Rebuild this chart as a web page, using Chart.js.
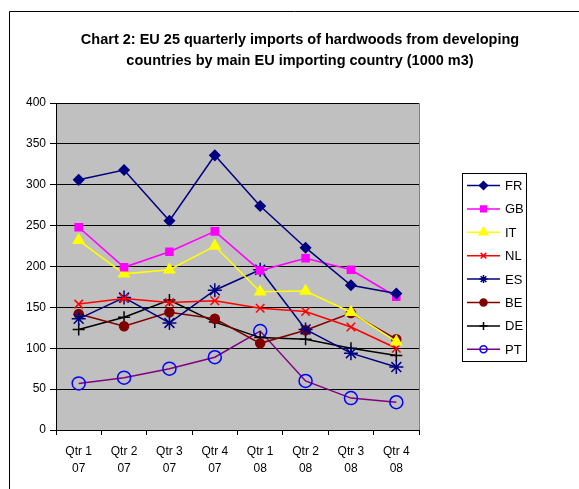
<!DOCTYPE html>
<html>
<head>
<meta charset="utf-8">
<script src="https://cdn.jsdelivr.net/npm/chart.js@4/dist/chart.umd.min.js"></script>
<style>
html,body{margin:0;padding:0;background:#fff;}
#wrap{position:relative;width:579px;height:489px;}
</style>
</head>
<body>
<div id="wrap"><canvas id="c" width="579" height="489"></canvas></div>
<script>
const titleLines = ["Chart 2: EU 25 quarterly imports of hardwoods from developing", "countries by main EU importing country (1000 m3)"];
const categories = [["Qtr 1","07"],["Qtr 2","07"],["Qtr 3","07"],["Qtr 4","07"],["Qtr 1","08"],["Qtr 2","08"],["Qtr 3","08"],["Qtr 4","08"]];
const yTicks = [0,50,100,150,200,250,300,350,400];
const FR = [306,318,256,336,274,223,177,167];
const GB = [248,199,218,243,195,210,196,163];
const IT = [232,191,196,225,169,170,144,108];
const NL = [154,161,156,158,149,145,126,100];
const ES = [136,162,131,171,196,123,94,77];
const BE = [142,127,144,136,106,122,143,111];
const DE = [123,138,159,132,113,111,100,91];
const PT = [57,64,75,89,121,60,39,34];

const FONT = "Arial, 'Liberation Sans', sans-serif";

function ds(label, data, line, pstyle, pfill, pborder, radius, legendRadius){
  return {label, data, borderColor: line, backgroundColor: pfill, pointStyle: pstyle,
    pointBackgroundColor: pfill, pointBorderColor: pborder, pointRadius: radius, pointHoverRadius: radius,
    pointBorderWidth: 1.5, borderWidth: 1.5, tension: 0, fill: false, legendRadius};
}
const datasets = [
  ds("FR", FR, "#000080", "rectRot", "#000080", "#000080", 5, 4),
  ds("GB", GB, "#FF00FF", "rect", "#FF00FF", "#FF00FF", 5, 4),
  ds("IT", IT, "#FFFF00", "triangle", "#FFFF00", "#FFFF00", 6, 5),
  ds("NL", NL, "#FF0000", "crossRot", "#FF0000", "#FF0000", 6, 4),
  ds("ES", ES, "#000080", "star", "#000080", "#000080", 7, 4),
  ds("BE", BE, "#800000", "circle", "#800000", "#800000", 4.5, 3.5),
  ds("DE", DE, "#000000", "cross", "#000000", "#000000", 6, 4),
  ds("PT", PT, "#800080", "circle", "rgba(0,0,0,0)", "#0000FF", 6.5, 3.5)
];

const decor = {
  id: "decor",
  beforeDraw(chart){
    const ctx = chart.ctx, a = chart.chartArea;
    ctx.save();
    ctx.fillStyle = "#fff";
    ctx.fillRect(0,0,chart.width,chart.height);
    ctx.fillStyle = "#C0C0C0";
    ctx.fillRect(a.left, a.top, a.right-a.left, a.bottom-a.top);
    ctx.strokeStyle = "#808080"; ctx.lineWidth = 1;
    ctx.beginPath();
    ctx.moveTo(a.left, a.top+0.5); ctx.lineTo(a.right+0.5, a.top+0.5); ctx.lineTo(a.right+0.5, a.bottom);
    ctx.stroke();
    // outer frame
    ctx.strokeStyle = "#000";
    ctx.beginPath();
    ctx.moveTo(9.5, 489); ctx.lineTo(9.5, 11.5); ctx.lineTo(579, 11.5);
    ctx.stroke();
    // title
    ctx.fillStyle = "#000";
    ctx.font = "bold 14.5px " + FONT;
    ctx.textAlign = "center"; ctx.textBaseline = "middle";
    ctx.fillText(titleLines[0], 300, 40);
    ctx.fillText(titleLines[1], 300, 61);
    ctx.restore();
  },
  afterDraw(chart){
    const ctx = chart.ctx;
    ctx.save();
    ctx.fillStyle = "#fff"; ctx.strokeStyle = "#000"; ctx.lineWidth = 1;
    ctx.fillRect(462.5,173.5,64,188);
    ctx.strokeRect(462.5,173.5,64,188);
    ctx.font = "13px " + FONT; ctx.textAlign = "left"; ctx.textBaseline = "middle";
    chart.data.datasets.forEach((d,i)=>{
      const y = 185.5 + i*23.4;
      ctx.strokeStyle = d.borderColor; ctx.lineWidth = 1.5;
      ctx.beginPath(); ctx.moveTo(467,y); ctx.lineTo(500,y); ctx.stroke();
      ctx.fillStyle = d.pointBackgroundColor; ctx.strokeStyle = d.pointBorderColor; ctx.lineWidth = 1.5;
      Chart.helpers.drawPoint(ctx, {pointStyle: d.pointStyle, radius: d.legendRadius, rotation: 0, borderWidth: 1.5}, 483.5, y);
      ctx.fillStyle = "#000";
      ctx.fillText(d.label, 505, y+1);
    });
    ctx.restore();
  }
};

new Chart(document.getElementById("c"), {
  type: "line",
  data: { labels: categories, datasets },
  options: {
    responsive: false, animation: false, devicePixelRatio: 1,
    layout: { padding: { left: 16, top: 103, right: 160, bottom: 5 } },
    plugins: { legend: {display:false}, title: {display:false}, tooltip: {enabled:false} },
    scales: {
      x: {
        offset: true,
        grid: { offset: true, drawOnChartArea: false, tickLength: 5, color: "#000", lineWidth: 1 },
        border: { color: "#000", width: 1 },
        ticks: { color: "#000", font: { family: FONT, size: 12, lineHeight: 1.45 }, maxRotation: 0, autoSkip: false, padding: 8 },
        afterFit(s){ s.height = 54; }
      },
      y: {
        min: 0, max: 400,
        afterBuildTicks(s){ s.ticks = yTicks.map(v=>({value:v})); },
        grid: { color: "#000", lineWidth: 1, tickLength: 6 },
        border: { color: "#000", width: 1 },
        ticks: { color: "#000", font: { family: FONT, size: 12 }, padding: 4 },
        afterFit(s){ s.width = 40; }
      }
    }
  },
  plugins: [decor]
});
</script>
</body>
</html>
